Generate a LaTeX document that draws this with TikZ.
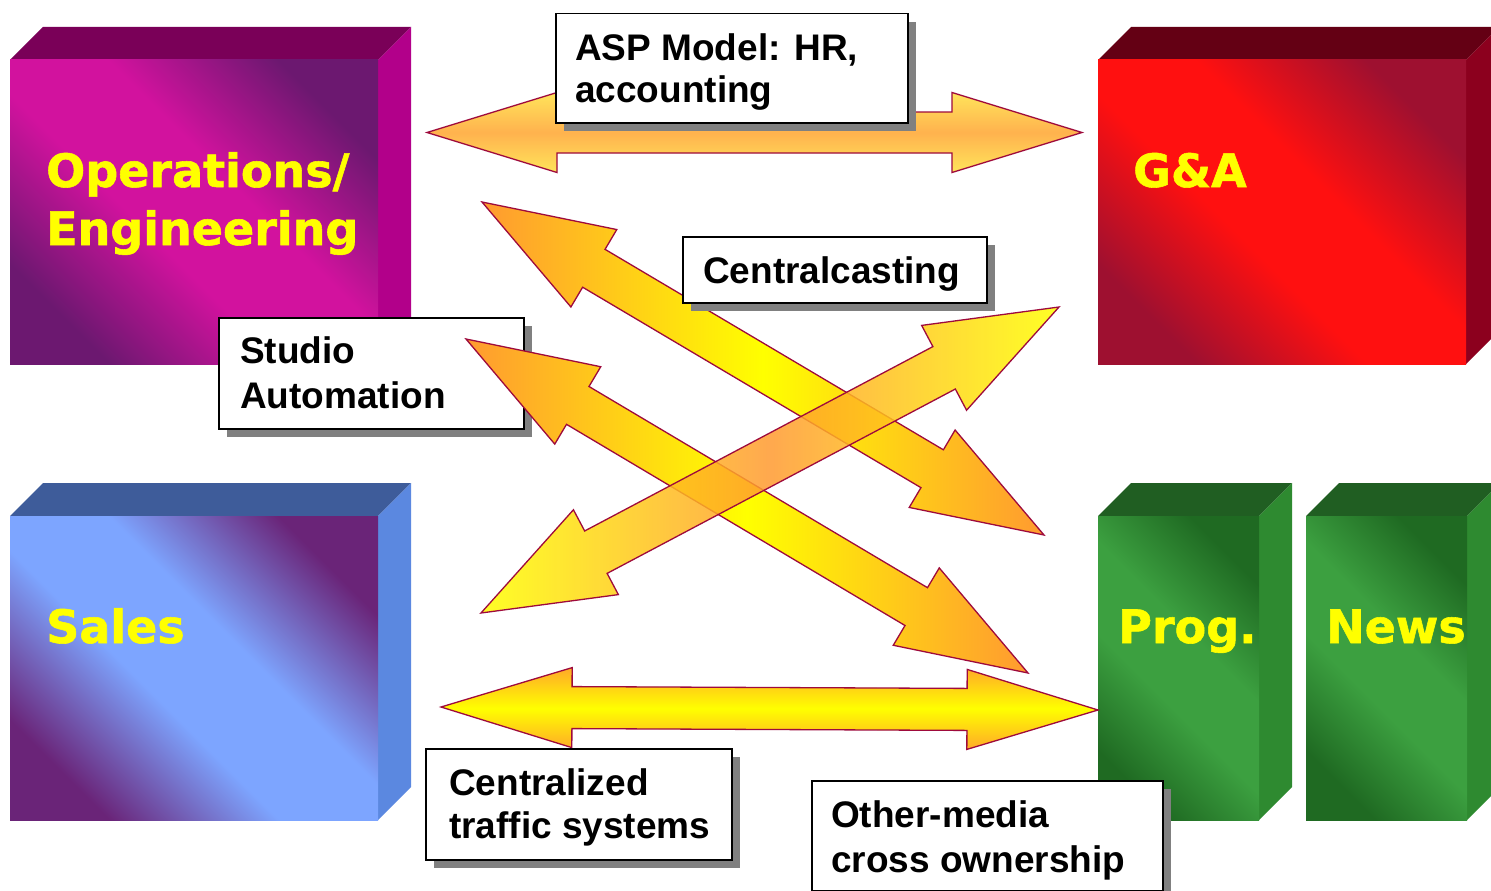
\documentclass[tikz,border=0pt]{standalone}
\usepackage{fontspec}
\setmainfont{Liberation Sans}
\newfontfamily\bigfont{DejaVu Sans}[FakeBold=1.2]
\usetikzlibrary{calc,shadows}

\definecolor{arrline}{HTML}{9E0A3C}
\definecolor{aorange}{HTML}{FF9A30}
\definecolor{ayellow}{HTML}{FFFF00}
\definecolor{paleorange}{HTML}{FFB24E}
\definecolor{paleyellow}{HTML}{FFE45A}
\definecolor{labyellow}{HTML}{FFFF00}
% cube colours
\definecolor{opsbright}{HTML}{D2129E}
\definecolor{opsdark}{HTML}{6C1870}
\definecolor{opstop}{HTML}{7A0058}
\definecolor{opsside}{HTML}{B2008A}
\definecolor{gabright}{HTML}{FF1010}
\definecolor{gadark}{HTML}{9E1030}
\definecolor{gatop}{HTML}{640014}
\definecolor{gaside}{HTML}{8C001E}
\definecolor{salesbright}{HTML}{7DA5FF}
\definecolor{salesdark}{HTML}{6A2478}
\definecolor{salestop}{HTML}{3E5C9A}
\definecolor{salesside}{HTML}{5B88E0}
\definecolor{grbright}{HTML}{3CA040}
\definecolor{grdark}{HTML}{1F6A22}
\definecolor{grtop}{HTML}{205E22}
\definecolor{grside}{HTML}{2E8A30}

\pgfdeclareverticalshading{opsshade}{100bp}{color(0bp)=(opsdark); color(25bp)=(opsdark); color(43bp)=(opsbright); color(57bp)=(opsbright); color(75bp)=(opsdark); color(100bp)=(opsdark)}
\pgfdeclareverticalshading{gashade}{100bp}{color(0bp)=(gadark); color(25bp)=(gadark); color(43bp)=(gabright); color(57bp)=(gabright); color(75bp)=(gadark); color(100bp)=(gadark)}
\pgfdeclareverticalshading{salesshade}{100bp}{color(0bp)=(salesdark); color(25bp)=(salesdark); color(43bp)=(salesbright); color(57bp)=(salesbright); color(75bp)=(salesdark); color(100bp)=(salesdark)}
\pgfdeclareverticalshading{grshade}{100bp}{color(0bp)=(grdark); color(25bp)=(grdark); color(43bp)=(grbright); color(57bp)=(grbright); color(75bp)=(grdark); color(100bp)=(grdark)}

% 3D block: x0,y0,x1,y1 (front face), shading, top, side
\newcommand\cubebox[7]{%
  \fill[#6] (#1,#2) -- ++(33,-33) -- (#3+33,#2-33) -- (#3,#2) -- cycle;
  \fill[#7] (#3,#2) -- ++(33,-33) -- (#3+33,#4-33) -- (#3,#4) -- cycle;
  \shade[shading=#5, shading angle=-45] (#1,#2) rectangle (#3,#4);}

% double arrow: from, to, head length, head half width, shaft half width, style
\newcommand\dblarrow[6]{%
  \path[#6] (#1)
   -- ($(#1)!#3!(#2)!#4!90:(#2)$)
   -- ($(#1)!#3!(#2)!#5!90:(#2)$)
   -- ($(#2)!#3!(#1)!#5!-90:(#1)$)
   -- ($(#2)!#3!(#1)!#4!-90:(#1)$)
   -- (#2)
   -- ($(#2)!#3!(#1)!#4!90:(#1)$)
   -- ($(#2)!#3!(#1)!#5!90:(#1)$)
   -- ($(#1)!#3!(#2)!#5!-90:(#2)$)
   -- ($(#1)!#3!(#2)!#4!-90:(#2)$)
   -- cycle;}

\tikzset{
  arrbase/.style={draw=arrline, line width=1.3pt, line join=miter},
  arrA/.style={arrbase, top color=paleyellow, bottom color=paleyellow, middle color=paleorange},
  arrB/.style={arrbase, top color=aorange!85!ayellow, bottom color=aorange!85!ayellow, middle color=ayellow},
  arrC/.style={arrbase, left color=aorange, right color=aorange, middle color=ayellow},
  arrE/.style={arrbase, left color=ayellow, right color=ayellow, middle color=aorange, fill opacity=0.85},
  lblbox/.style={draw=black, line width=1.5pt, fill=white, inner sep=0pt, anchor=north west,
    drop shadow={shadow xshift=8pt, shadow yshift=-8pt, fill=gray, opacity=1}},
  lbl/.style={anchor=base west, inner sep=0pt, text=black, font=\fontsize{37}{44}\selectfont\bfseries},
  big/.style={anchor=base west, inner sep=0pt, text=labyellow, font=\bigfont\bfseries\fontsize{46}{56}\selectfont},
}

\begin{document}
\begin{tikzpicture}[x=1pt,y=-1pt]
\useasboundingbox (0,0) rectangle (1491,891);
\clip (0,0) rectangle (1491,891);
\fill[white] (0,0) rectangle (1491,891);

% blocks
\cubebox{10}{60}{378}{364}{opsshade}{opstop}{opsside}
\cubebox{1098}{60}{1466}{364}{gashade}{gatop}{gaside}
\cubebox{10}{516}{378}{820}{salesshade}{salestop}{salesside}
\cubebox{1098}{516}{1259}{820}{grshade}{grtop}{grside}
\cubebox{1306}{516}{1467}{820}{grshade}{grtop}{grside}

\node[big] (ops1) at (46,187) {Operations/};
\node[big] (ops2) at (46,245) {Engineering};
\node[big] (ga) at (1133,187) {G\&A};
\node[big] (sales) at (46,643) {Sales};
\node[big] (prog) at (1118,643) {Prog.};
\node[big] (news) at (1326,643) {News};

% Studio Automation label (under the arrows)
\node[lblbox, minimum width=305pt, minimum height=111pt] (stbox) at (218,317) {};
\node[lbl] (st1) at (240,363) {Studio};
\node[lbl] (st2) at (240,408) {Automation};

% arrow end points
\coordinate (aL) at (427,132.5); \coordinate (aR) at (1082,132.5);
\coordinate (bL) at (441,707);   \coordinate (bR) at (1098,710);
\coordinate (cNW) at (482,202);  \coordinate (cSE) at (1044,535);
\coordinate (dNW) at (466,339);  \coordinate (dSE) at (1028,673);
\coordinate (eSW) at (481,613);  \coordinate (eNE) at (1059,307);

\dblarrow{aL}{aR}{130pt}{40pt}{20.5pt}{arrA}
\dblarrow{bL}{bR}{131pt}{40pt}{21pt}{arrB}
\dblarrow{cNW}{cSE}{130pt}{45pt}{22pt}{arrC}
\dblarrow{dNW}{dSE}{130pt}{45pt}{22pt}{arrC}
\dblarrow{eSW}{eNE}{130pt}{48pt}{24pt}{arrE}

% other labels
\node[lblbox, minimum width=352pt, minimum height=109pt] (aspbox) at (555,13) {};
\node[lbl] (asp1) at (575,60) {ASP Model: HR,};
\node[lbl] (asp2) at (575,102) {accounting};

\node[lblbox, minimum width=304pt, minimum height=66pt] (ccbox) at (682,236) {};
\node[lbl] (cc) at (703,283) {Centralcasting};

\node[lblbox, minimum width=306pt, minimum height=111pt] (ctbox) at (425,748) {};
\node[lbl] (ct1) at (449,795) {Centralized};
\node[lbl] (ct2) at (449,838) {traffic systems};

\node[lblbox, minimum width=351pt, minimum height=110pt] (ombox) at (811,780) {};
\node[lbl] (om1) at (831,827) {Other-media};
\node[lbl] (om2) at (831,872) {cross ownership};
\end{tikzpicture}
\end{document}
